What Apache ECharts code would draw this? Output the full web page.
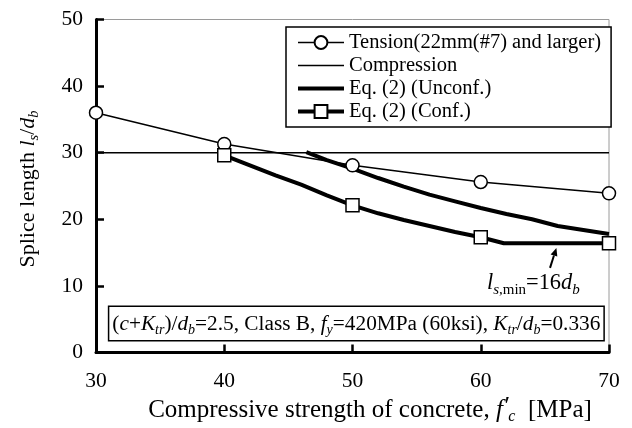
<!DOCTYPE html>
<html>
<head>
<meta charset="utf-8">
<script src="https://cdn.jsdelivr.net/npm/echarts@6/dist/echarts.min.js"></script>
<style>
html,body{margin:0;padding:0;background:#fff;}
#chart{width:632px;height:428px;}
</style>
</head>
<body>
<div id="chart"></div>
<script>
// ---- data ----
const seriesNames = ['Tension(22mm(#7) and larger)', 'Compression', 'Eq. (2) (Unconf.)', 'Eq. (2) (Conf.)'];
const tensionX = [30, 40, 50, 60, 70];
const tensionY = [36.0, 31.3, 28.1, 25.6, 23.9];
const compX = [30, 70];
const compY = [30, 30];
const unconfX = [46.4, 48, 50, 52, 54, 56, 58, 60, 62, 64, 66, 68, 70];
const unconfY = [30.1, 28.9, 27.6, 26.2, 24.9, 23.7, 22.7, 21.7, 20.8, 20.0, 19.0, 18.4, 17.8];
const confX = [40, 42, 44, 46, 48, 50, 52, 54, 56, 58, 60, 61.8, 70];
const confY = [29.6, 28.1, 26.6, 25.2, 23.6, 22.1, 20.9, 19.9, 19.0, 18.1, 17.3, 16.4, 16.4];
const confMarkerX = [40, 50, 60, 70];
const xTicks = [30, 40, 50, 60, 70];
const yTicks = [0, 10, 20, 30, 40, 50];

const FONT = '"Liberation Serif", "Times New Roman", serif';
const pairs = (xs, ys) => xs.map((x, i) => [x, ys[i]]);

const chart = echarts.init(document.getElementById('chart'), null, {renderer: 'canvas'});

function makeRich(fs, sfs, lh) {
  return {
    n: {fontFamily: FONT, fontSize: fs, color: '#000', lineHeight: lh},
    i: {fontFamily: FONT, fontSize: fs, fontStyle: 'italic', color: '#000', lineHeight: lh},
    s: {fontFamily: FONT, fontSize: sfs, fontStyle: 'italic', color: '#000', lineHeight: sfs, verticalAlign: 'bottom'},
    sn: {fontFamily: FONT, fontSize: sfs, color: '#000', lineHeight: sfs, verticalAlign: 'bottom'},
    p: {fontFamily: FONT, fontSize: fs, fontStyle: 'italic', color: '#000', lineHeight: lh, verticalAlign: 'top'}
  };
}
const richBox = makeRich(21.3, 14, 26);
const richLabel = makeRich(22.4, 15, 28);
const richX = makeRich(25, 16, 30);
const richY = makeRich(22, 14.5, 28);

const option = {
  animation: false,
  backgroundColor: '#fff',
  grid: {left: 96, right: 23, top: 19.5, bottom: 75.5, show: true, borderColor: '#9a9a9a', borderWidth: 1, backgroundColor: 'transparent'},
  xAxis: {
    type: 'value', min: xTicks[0], max: xTicks[xTicks.length - 1], interval: 10,
    axisLine: {lineStyle: {color: '#000', width: 3}},
    axisTick: {inside: true, length: 8, lineStyle: {color: '#000', width: 2.5}},
    axisLabel: {fontFamily: FONT, fontSize: 21.5, color: '#000', margin: 18},
    splitLine: {show: false}
  },
  yAxis: {
    type: 'value', min: yTicks[0], max: yTicks[yTicks.length - 1], interval: 10,
    axisLine: {lineStyle: {color: '#000', width: 3}},
    axisTick: {inside: true, length: 8, lineStyle: {color: '#000', width: 2.5}},
    axisLabel: {fontFamily: FONT, fontSize: 21.5, color: '#000', margin: 13},
    splitLine: {show: false}
  },
  legend: {
    orient: 'vertical', left: 286, top: 27,
    padding: [5, 10, 5, 10],
    itemWidth: 46, itemHeight: 16, itemGap: 2,
    borderColor: '#000', borderWidth: 1.5, backgroundColor: '#fff',
    lineStyle: {width: 'inherit'},
    textStyle: {fontFamily: FONT, fontSize: 20.5, color: '#000', lineHeight: 20},
    data: [
      {name: seriesNames[0]},
      {name: seriesNames[1], itemStyle: {opacity: 0}},
      {name: seriesNames[2], itemStyle: {opacity: 0}},
      {name: seriesNames[3]}
    ]
  },
  series: [
    {
      name: seriesNames[0], type: 'line', data: pairs(tensionX, tensionY),
      symbol: 'circle', symbolSize: 13, showSymbol: true,
      lineStyle: {color: '#000', width: 1.5},
      itemStyle: {color: '#fff', borderColor: '#000', borderWidth: 1.5}
    },
    {
      name: seriesNames[1], type: 'line', data: pairs(compX, compY),
      symbol: 'none',
      lineStyle: {color: '#000', width: 1.5},
      itemStyle: {color: '#000', opacity: 0}
    },
    {
      name: seriesNames[2], type: 'line', data: pairs(unconfX, unconfY),
      symbol: 'none',
      lineStyle: {color: '#000', width: 4},
      itemStyle: {color: '#000', opacity: 0}
    },
    {
      name: seriesNames[3], type: 'line',
      data: confX.map((x, i) => ({value: [x, confY[i]], symbol: confMarkerX.indexOf(x) >= 0 ? 'rect' : 'none'})),
      symbol: 'rect', symbolSize: 13, showSymbol: true,
      lineStyle: {color: '#000', width: 4},
      itemStyle: {color: '#fff', borderColor: '#000', borderWidth: 1.5}
    }
  ]
};
chart.setOption(option);

// annotations placed via data coordinates
const arrowTail = chart.convertToPixel({gridIndex: 0}, [65.4, 12.7]);
const arrowTip = chart.convertToPixel({gridIndex: 0}, [65.9, 15.7]);
const dx = arrowTip[0] - arrowTail[0], dy = arrowTip[1] - arrowTail[1];
const len = Math.sqrt(dx * dx + dy * dy), ux = dx / len, uy = dy / len;
const hl = 8, hw = 3.5;
const base = [arrowTip[0] - ux * hl, arrowTip[1] - uy * hl];
const labelPos = chart.convertToPixel({gridIndex: 0}, [64.1, 10.4]);
const boxPos = chart.convertToPixel({gridIndex: 0}, [50.3, 4.35]);

chart.setOption({
  graphic: [
    {
      type: 'line', silent: true,
      shape: {x1: arrowTail[0], y1: arrowTail[1], x2: base[0], y2: base[1]},
      style: {stroke: '#000', lineWidth: 2}
    },
    {
      type: 'polygon', silent: true,
      shape: {points: [arrowTip, [base[0] - uy * hw, base[1] + ux * hw], [base[0] + uy * hw, base[1] - ux * hw]]},
      style: {fill: '#000'}
    },
    {
      type: 'text', silent: true, x: labelPos[0], y: labelPos[1],
      style: {
        text: '{i|l}{s|s}{sn|,min}{n|=16}{i|d}{s|b}',
        rich: richLabel, align: 'center', verticalAlign: 'middle'
      }
    },
    {
      type: 'text', silent: true, x: boxPos[0], y: boxPos[1],
      style: {
        text: '{n|(}{i|c}{n|+}{i|K}{s|tr}{n|)/}{i|d}{s|b}{n|=2.5, Class B, }{i|f}{s|y}{n|=420MPa (60ksi), }{i|K}{s|tr}{n|/}{i|d}{s|b}{n|=0.336}',
        rich: richBox, align: 'center', verticalAlign: 'middle',
        backgroundColor: '#fff', borderColor: '#000', borderWidth: 1.5, padding: [4, 3, 3, 3]
      }
    },
    {
      type: 'text', silent: true, x: 370, y: 410,
      style: {
        text: '{n|Compressive strength of concrete, }{i|f}{p|′}{s|c}{n|  [MPa]}',
        rich: richX, align: 'center', verticalAlign: 'middle'
      }
    },
    {
      type: 'text', silent: true, x: 28, y: 189, rotation: Math.PI / 2,
      style: {
        text: '{n|Splice length }{i|l}{s|s}{n|/}{i|d}{s|b}',
        rich: richY, align: 'center', verticalAlign: 'middle'
      }
    }
  ]
});
</script>
</body>
</html>
